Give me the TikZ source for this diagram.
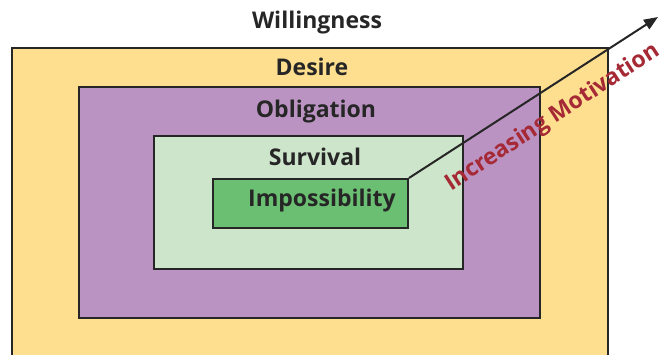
\documentclass[tikz,border=0pt]{standalone}
\usepackage{fontspec}
\setmainfont{Open Sans}
\usetikzlibrary{arrows.meta}
\definecolor{cyel}{HTML}{FDDF8F}
\definecolor{cpur}{HTML}{BB93C3}
\definecolor{clgr}{HTML}{CDE5CA}
\definecolor{cdgr}{HTML}{6BBF72}
\definecolor{cred}{HTML}{A52A36}
\definecolor{cline}{HTML}{262626}
\begin{document}
\begin{tikzpicture}[x=1pt,y=-1pt,
  box/.style={draw=cline,line width=2pt},
  lbl/.style={font=\bfseries\fontsize{23}{26}\selectfont,text=cline,inner sep=0pt}]
\useasboundingbox (0,0) rectangle (662,354);
\clip (0,0) rectangle (662,354);
\filldraw[box,fill=cyel] (12,48) rectangle (608,370);
\filldraw[box,fill=cpur] (79,87) rectangle (540,318);
\filldraw[box,fill=clgr] (154,136) rectangle (463,269);
\node[box,fill=cdgr,minimum width=195pt,minimum height=49pt,inner sep=0pt,anchor=north west] (imp) at (212,178) {};
\node[lbl] (tw) at (317,23) {Willingness};
\node[lbl] (td) at (312,67) {Desire};
\node[lbl] (to) at (316,112) {Obligation};
\node[lbl] (ts) at (315,157) {Survival};
\node[lbl] (ti) at (322,201) {Impossibility};
\coordinate (tip) at (658,17);
\draw[line width=2pt,cline,-{Triangle[length=14pt,width=11pt]}] (imp.north east) -- (tip);
\node[lbl,text=cred,rotate=33] (tm) at (553,118) {Increasing Motivation};
\end{tikzpicture}
\end{document}
